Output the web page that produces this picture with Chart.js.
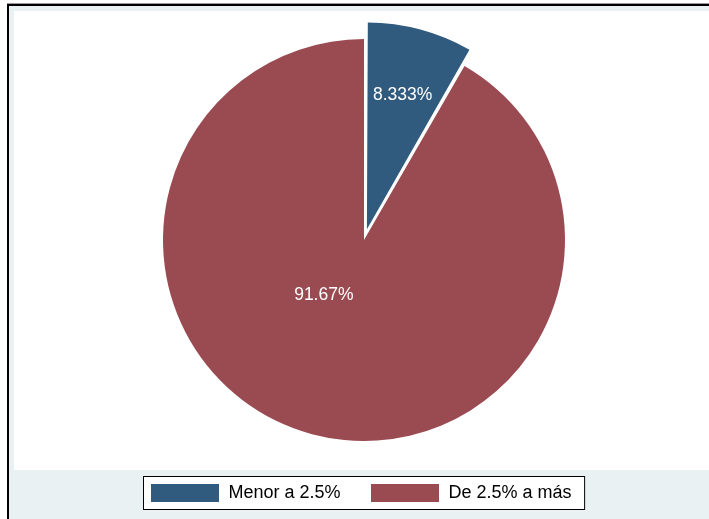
<!DOCTYPE html>
<html>
<head>
<meta charset="utf-8">
<script src="https://cdn.jsdelivr.net/npm/chart.js@4/dist/chart.umd.min.js"></script>
<style>
  html, body { margin: 0; padding: 0; background: #fff; }
  canvas { display: block; }
</style>
</head>
<body>
<canvas id="pieChart" width="709" height="519"></canvas>
<script>
// chart data
const categories = ['Menor a 2.5%', 'De 2.5% a más'];
const shares = [8.333, 91.67];
const sliceColors = ['#315b7e', '#9a4a51'];
// Chart.js moves an arc by offset/4 * (1 + fix), fix = 1 - sin(angle);
// 45 pulls the 30deg slice out by about 17px
const explode = [45, 0];

const FONT = '"Liberation Sans", Arial, sans-serif';
const BAND_BG = '#eaf1f3';

// label placement per slice: fraction of radius, extra turn in degrees
const labelPlace = [{ f: 0.66, turn: 0 }, { f: 0.34, turn: 21 }];

const framePlugin = {
    id: 'frame',
    beforeDraw(chart) {
        const ctx = chart.ctx;
        const W = chart.width, H = chart.height;
        ctx.save();
        ctx.fillStyle = '#fff';
        ctx.fillRect(0, 0, W, H);
        ctx.fillStyle = BAND_BG;
        ctx.fillRect(9, 6, W - 9, H - 6);
        ctx.fillStyle = '#fff';
        ctx.fillRect(14, 11, W - 14, 459);
        // outer black frame (left + top)
        ctx.fillStyle = '#999';
        ctx.fillRect(7, 3, W - 7, 1);
        ctx.fillStyle = '#000';
        ctx.fillRect(7, 4, W - 7, 2);
        ctx.fillRect(7, 4, 2, H - 4);
        ctx.restore();
    },
    afterDraw(chart) {
        const ctx = chart.ctx;
        const arcs = chart.getDatasetMeta(0).data;
        ctx.save();

        // slice labels
        ctx.font = '17.5px ' + FONT;
        ctx.fillStyle = '#fff';
        ctx.textAlign = 'center';
        ctx.textBaseline = 'middle';
        arcs.forEach((arc, i) => {
            const p = arc.getProps(['x', 'y', 'startAngle', 'endAngle', 'outerRadius', 'circumference']);
            const mid = (p.startAngle + p.endAngle) / 2;
            const fix = 1 - Math.sin(Math.min(Math.PI, p.circumference || 0));
            const off = explode[i] / 4 * (1 + fix);
            const cx = p.x + Math.cos(mid) * off;
            const cy = p.y + Math.sin(mid) * off;
            const a = mid + labelPlace[i].turn * Math.PI / 180;
            const r = p.outerRadius * labelPlace[i].f;
            ctx.fillText(shares[i].toPrecision(4) + '%', cx + Math.cos(a) * r, cy + Math.sin(a) * r);
        });

        // legend
        ctx.font = '18px ' + FONT;
        const sw = 68, sh = 18, gapText = 10, gapItem = 30, padL = 7, padR = 13;
        const widths = categories.map(c => ctx.measureText(c).width);
        let total = padL + padR;
        widths.forEach((w, i) => { total += sw + gapText + w + (i ? gapItem : 0); });
        const cxLeg = chart.chartArea.left + (chart.chartArea.right - chart.chartArea.left) / 2;
        const left = Math.round(cxLeg - total / 2) + 0.5;
        const top = 476.5, boxH = 33;
        ctx.fillStyle = '#fff';
        ctx.fillRect(left, top, total, boxH);
        ctx.strokeStyle = '#000';
        ctx.lineWidth = 1;
        ctx.strokeRect(left, top, total, boxH);
        let x = left + padL;
        ctx.textAlign = 'left';
        categories.forEach((c, i) => {
            ctx.fillStyle = sliceColors[i];
            ctx.fillRect(Math.round(x), 484, sw, sh);
            ctx.fillStyle = '#000';
            ctx.fillText(c, x + sw + gapText, 493.5);
            x += sw + gapText + widths[i] + gapItem;
        });
        ctx.restore();
    }
};

new Chart(document.getElementById('pieChart'), {
    type: 'pie',
    data: {
        labels: categories,
        datasets: [{
            data: shares,
            backgroundColor: sliceColors,
            borderWidth: 0,
            offset: explode
        }]
    },
    options: {
        responsive: false,
        animation: false,
        devicePixelRatio: 1,
        radius: 201,
        layout: { padding: { left: 19, right: 0, top: 0, bottom: 39 } },
        plugins: {
            legend: { display: false },
            tooltip: { enabled: false }
        }
    },
    plugins: [framePlugin]
});
</script>
</body>
</html>
